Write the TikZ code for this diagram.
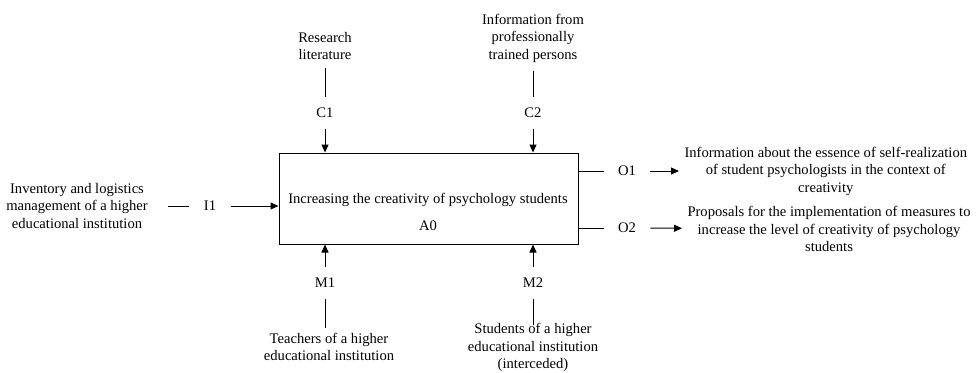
\documentclass[tikz,border=0pt]{standalone}
\usepackage{fontspec}
\setmainfont{Liberation Serif}
\usetikzlibrary{arrows.meta, positioning}

\begin{document}
\begin{tikzpicture}[x=1pt, y=-1pt, line width=1pt, >={Triangle[length=8pt, width=7pt]},
        txt/.style={align=center, font=\fontsize{14.6}{17.5}\selectfont, inner sep=5pt},
        code/.style={font=\fontsize{14.6}{17.5}\selectfont, text height=9.7pt, text depth=0pt, inner xsep=14pt, inner ysep=10.5pt},
        func/.style={draw, rectangle, minimum width=299pt, minimum height=91pt}]
        \useasboundingbox (0,0) rectangle (979,372);

        % activity box
        \node[func] (a0) at (428.5,198.5) {};
        \node[txt] (a0title) at (428,200) {Increasing the creativity of psychology students};
        \node[code] (a0num) at (428,226) {A0};

        % controls
        \node[txt, inner ysep=8pt] (ctrl1) at (325,46) {Research\\literature};
        \node[code] (c1) at (325,113) {C1};
        \node[txt, inner ysep=8pt] (ctrl2) at (533,38) {Information from\\professionally\\trained persons};
        \node[code] (c2) at (533,113) {C2};

        % input
        \node[txt, inner xsep=20pt] (inp1) at (77,206) {Inventory and logistics\\management of a higher\\educational institution};
        \node[code] (i1) at (210,206) {I1};

        % outputs
        \node[code] (o1) at (627,171) {O1};
        \node[txt, anchor=west] (out1) at (679,171) {Information about the essence of self-realization\\of student psychologists in the context of\\creativity};
        \node[code] (o2) at (627,228) {O2};
        \node[txt, anchor=west] (out2) at (682,229) {Proposals for the implementation of measures to\\increase the level of creativity of psychology\\students};

        % mechanisms
        \node[code] (m1) at (325,283) {M1};
        \node[txt] (mech1) at (329,347) {Teachers of a higher\\educational institution};
        \node[code] (m2) at (533,283) {M2};
        \node[txt] (mech2) at (533,347.5) {Students of a higher\\educational institution\\(interceded)};

        \draw[-] (ctrl1) -- (c1);
        \draw[->] (c1) -- (c1 |- a0.north);
        \draw[-] (ctrl2) -- (c2);
        \draw[->] (c2) -- (c2 |- a0.north);

        \draw[-] (inp1) -- (i1);
        \draw[->] (i1) -- (i1 -| a0.west);

        \draw[-] (o1 -| a0.east) -- (o1);
        \draw[->] (o1) -- (out1);
        \draw[-] (o2 -| a0.east) -- (o2);
        \draw[->] (o2) -- (out2);

        \draw[->] (m1) -- (m1 |- a0.south);
        \draw[-] (m1) -- (m1 |- mech1.north);
        \draw[->] (m2) -- (m2 |- a0.south);
        \draw[-, shorten >=-7pt] (m2) -- (mech2);
    \end{tikzpicture}
\end{document}
